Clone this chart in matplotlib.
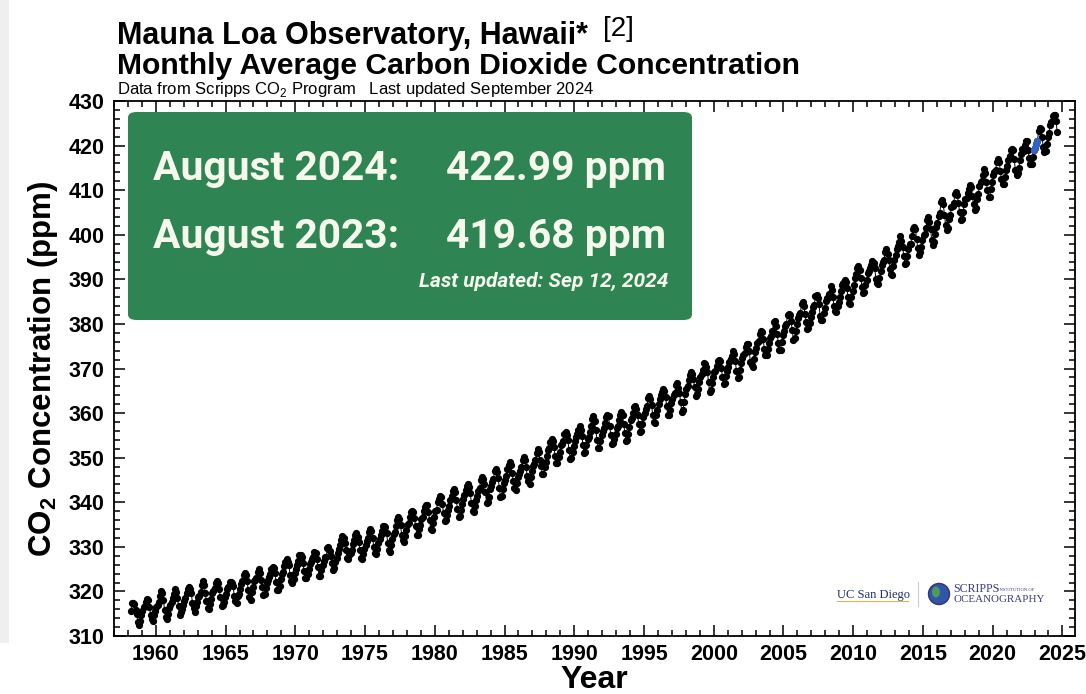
import numpy as np
import matplotlib
matplotlib.use('Agg')
import matplotlib.pyplot as plt
from matplotlib.patches import FancyBboxPatch, Rectangle, Ellipse
from matplotlib.ticker import MultipleLocator

# Mauna Loa monthly mean CO2 (ppm), starting March 1958
start_year = 1958
start_month = 3
co2_ppm = [
    315.70, 317.45, 317.51, 317.24, 315.86, 314.93, 313.20, 312.43, 313.33, 314.67,
    315.58, 316.48, 316.65, 317.72, 318.29, 318.15, 316.54, 314.80, 313.84, 313.33, 314.81, 315.58,
    316.43, 316.98, 317.58, 319.03, 320.04, 319.59, 318.18, 315.90, 314.17, 313.83, 315.00, 316.19,
    316.89, 317.70, 318.54, 319.48, 320.58, 319.77, 318.57, 316.79, 314.80, 315.38, 316.10, 317.01,
    317.94, 318.55, 319.68, 320.57, 321.02, 320.62, 319.61, 317.40, 316.25, 315.42, 316.69, 317.70,
    318.74, 319.07, 319.86, 321.38, 322.25, 321.48, 319.74, 317.77, 316.21, 315.99, 317.07, 318.35,
    319.57, 320.01, 320.74, 321.84, 322.26, 321.89, 320.44, 318.69, 316.70, 316.87, 317.68, 318.71,
    319.44, 320.44, 320.89, 322.14, 322.17, 321.87, 321.21, 318.87, 317.81, 317.30, 318.87, 319.42,
    320.62, 321.60, 322.39, 323.70, 324.08, 323.75, 322.38, 320.36, 318.64, 318.10, 319.78, 321.03,
    322.33, 322.50, 323.04, 324.42, 325.00, 324.09, 322.54, 320.92, 319.25, 319.39, 320.73, 321.96,
    322.57, 323.15, 323.89, 325.02, 325.57, 325.36, 324.14, 322.11, 320.33, 320.25, 321.32, 322.89,
    324.00, 324.42, 325.63, 326.66, 327.38, 326.71, 325.88, 323.66, 322.38, 321.78, 322.85, 324.12,
    325.06, 325.98, 326.93, 328.13, 328.08, 327.67, 326.34, 324.69, 323.10, 323.06, 324.01, 325.13,
    326.17, 326.68, 327.17, 327.79, 328.93, 328.57, 327.36, 325.43, 323.36, 323.56, 324.80, 326.01,
    326.77, 327.63, 327.75, 329.72, 330.07, 329.09, 328.04, 326.32, 324.84, 325.20, 326.50, 327.55,
    328.55, 329.56, 330.30, 331.50, 332.48, 332.07, 330.87, 329.31, 327.51, 327.18, 328.16, 328.64,
    329.35, 330.71, 331.48, 332.65, 333.09, 332.25, 331.18, 329.40, 327.44, 327.37, 328.46, 329.58,
    330.41, 331.41, 332.04, 333.31, 333.96, 333.59, 331.91, 330.06, 328.56, 328.34, 329.49, 330.76,
    331.75, 332.56, 333.50, 334.58, 334.57, 334.34, 333.05, 330.94, 329.30, 328.94, 330.31, 331.68,
    332.93, 333.42, 334.70, 336.07, 336.75, 336.27, 334.92, 332.75, 331.59, 331.16, 332.40, 333.85,
    334.97, 335.39, 336.64, 337.76, 338.01, 337.89, 336.54, 334.68, 332.76, 332.55, 333.92, 334.95,
    336.23, 336.76, 337.96, 338.89, 339.47, 339.29, 337.73, 336.09, 333.92, 333.86, 335.29, 336.73,
    338.01, 338.36, 340.07, 340.77, 341.47, 341.17, 339.56, 337.60, 335.88, 336.02, 337.10, 338.21,
    339.24, 340.48, 341.38, 342.51, 342.91, 342.25, 340.49, 338.43, 336.69, 336.85, 338.36, 339.61,
    340.75, 341.61, 342.70, 343.56, 344.13, 343.35, 342.06, 339.82, 337.97, 337.86, 339.26, 340.49,
    341.38, 342.52, 343.10, 344.94, 345.75, 345.32, 343.99, 342.39, 339.86, 339.99, 341.16, 342.99,
    343.70, 344.50, 345.28, 347.06, 347.43, 346.80, 345.39, 343.28, 341.07, 341.35, 342.98, 344.22,
    344.97, 346.00, 347.43, 348.35, 348.93, 348.25, 346.56, 344.67, 343.09, 342.80, 344.24, 345.56,
    346.30, 346.95, 347.85, 349.55, 350.21, 349.55, 347.94, 345.91, 344.86, 344.17, 345.66, 346.90,
    348.02, 348.47, 349.42, 350.99, 351.84, 351.25, 349.52, 348.10, 346.44, 346.36, 347.81, 348.96,
    350.43, 351.72, 352.22, 353.59, 354.22, 353.79, 352.39, 350.44, 348.72, 348.88, 350.07, 351.34,
    352.76, 353.07, 353.68, 355.42, 355.67, 355.12, 353.90, 351.67, 349.80, 349.99, 351.30, 352.53,
    353.66, 354.70, 355.39, 356.20, 357.16, 356.22, 354.82, 352.91, 350.96, 351.18, 352.83, 354.21,
    354.72, 355.75, 357.16, 358.60, 359.34, 358.24, 356.17, 354.03, 352.16, 352.21, 353.75, 354.99,
    355.99, 356.72, 357.81, 359.15, 359.66, 359.25, 357.02, 355.00, 353.01, 353.31, 354.16, 355.40,
    356.70, 357.17, 358.38, 359.46, 360.28, 359.60, 357.57, 355.52, 353.69, 353.99, 355.34, 356.80,
    358.37, 358.91, 359.97, 361.26, 361.69, 360.94, 359.55, 357.49, 355.84, 356.00, 357.58, 359.04,
    359.97, 361.00, 361.64, 363.45, 363.79, 363.26, 361.90, 359.46, 358.06, 357.75, 359.56, 360.70,
    362.05, 363.25, 364.03, 364.72, 365.41, 364.97, 363.65, 361.49, 359.46, 359.60, 360.76, 362.33,
    363.18, 364.00, 364.57, 366.35, 366.79, 365.62, 364.47, 362.51, 360.19, 360.77, 362.43, 364.28,
    365.32, 366.15, 367.31, 368.61, 369.30, 368.87, 367.64, 365.77, 363.90, 364.23, 365.46, 366.97,
    368.15, 368.87, 369.59, 371.14, 371.00, 370.35, 369.27, 366.94, 364.63, 365.12, 366.67, 368.01,
    369.14, 369.46, 370.52, 371.66, 371.82, 371.70, 370.12, 368.12, 366.62, 366.73, 368.29, 369.53,
    370.28, 371.50, 372.12, 372.87, 374.02, 373.30, 371.62, 369.55, 367.96, 368.09, 369.68, 371.24,
    372.44, 373.08, 373.52, 374.85, 375.55, 375.40, 374.02, 371.48, 370.71, 370.25, 372.08, 373.78,
    374.68, 375.62, 376.11, 377.65, 378.35, 378.13, 376.61, 374.48, 372.98, 373.00, 374.35, 375.69,
    376.79, 377.36, 378.39, 380.50, 380.62, 379.55, 377.76, 375.83, 374.05, 374.22, 375.84, 377.44,
    378.34, 379.61, 380.08, 382.05, 382.24, 382.08, 380.67, 378.67, 376.42, 376.80, 378.31, 379.96,
    381.37, 382.02, 382.56, 384.37, 384.92, 384.03, 382.28, 380.48, 378.81, 379.06, 380.14, 381.66,
    382.58, 383.71, 384.34, 386.23, 386.41, 385.87, 384.45, 381.84, 380.86, 380.86, 382.36, 383.61,
    385.07, 385.72, 385.85, 386.71, 388.45, 387.64, 386.10, 383.95, 382.91, 382.73, 383.96, 385.02,
    386.01, 387.42, 388.71, 389.25, 389.90, 389.50, 388.01, 386.11, 384.74, 384.43, 386.02, 387.42,
    388.71, 390.20, 391.17, 392.46, 393.00, 392.15, 390.20, 388.35, 386.85, 387.24, 388.67, 389.79,
    391.33, 391.86, 392.60, 393.25, 394.19, 393.74, 392.51, 390.13, 389.08, 389.00, 390.28, 391.86,
    393.12, 393.86, 394.40, 396.18, 396.74, 395.71, 394.36, 392.39, 391.11, 391.05, 392.98, 394.34,
    395.55, 396.80, 397.43, 398.41, 399.78, 398.60, 397.32, 395.20, 393.45, 393.70, 395.16, 396.84,
    397.85, 398.01, 399.77, 401.38, 401.78, 401.25, 399.10, 397.03, 395.38, 396.03, 397.28, 398.91,
    399.98, 400.28, 401.54, 403.28, 403.96, 402.80, 401.31, 398.93, 397.63, 398.29, 400.16, 401.85,
    402.56, 404.12, 404.87, 407.45, 407.72, 406.83, 404.41, 402.27, 401.05, 401.59, 403.55, 404.45,
    406.17, 406.46, 407.22, 409.04, 409.69, 408.88, 407.12, 405.13, 403.37, 403.63, 405.12, 406.81,
    407.96, 408.32, 409.41, 410.24, 411.24, 410.79, 408.71, 406.99, 405.51, 406.00, 408.02, 409.07,
    410.83, 411.75, 411.97, 413.32, 414.66, 413.92, 411.77, 409.95, 408.54, 408.53, 410.27, 411.76,
    413.39, 414.11, 414.51, 416.21, 417.07, 416.38, 414.38, 412.55, 411.29, 411.30, 412.96, 414.47,
    415.52, 416.75, 417.64, 419.05, 419.13, 418.94, 416.96, 414.47, 413.30, 413.93, 415.01, 416.71,
    418.19, 419.28, 418.81, 420.23, 420.99, 420.99, 418.90, 417.19, 415.95, 415.78, 417.51, 418.95,
    419.47, 420.31, 420.99, 423.36, 424.00, 423.68, 421.83, 419.68, 418.51, 418.82, 420.46, 421.86,
    422.80, 424.55, 425.38, 426.57, 426.90, 426.91, 425.55, 422.99,
]
# months measured at Maunakea after the 2022 eruption (year, month)
maunakea_months = [(2022, 12), (2023, 1), (2023, 2), (2023, 3)]

latest_label = 'August 2024:'
latest_value = 422.99
prior_label = 'August 2023:'
prior_value = 419.68
box_note = 'Last updated: Sep 12, 2024'

W, H = 1086, 694
def fx(px):
    return px / W
def fy(py):
    return 1 - py / H

# decimal year at mid-month
n = len(co2_ppm)
months = np.arange(n) + (start_month - 1)
t = start_year + months / 12.0 + 1 / 24.0
co2 = np.array(co2_ppm)
blue_idx = [(y - start_year) * 12 + (m - start_month) for y, m in maunakea_months]

plt.rcParams['font.family'] = ['Liberation Sans', 'DejaVu Sans']
plt.rcParams['mathtext.fontset'] = 'custom'
plt.rcParams['mathtext.rm'] = 'Liberation Sans'
plt.rcParams['mathtext.bf'] = 'Liberation Sans:bold'

fig = plt.figure(figsize=(W / 100, H / 100), dpi=100)
fig.patches.append(Rectangle((0, fy(643)), fx(9), 1 - fy(643), transform=fig.transFigure,
                             facecolor='#efefef', edgecolor='none', zorder=0))
ax = fig.add_axes([fx(114), fy(636), fx(1075) - fx(114), fy(101) - fy(636)])

ax.plot(t, co2, '-', color='k', lw=0.7, marker='o', ms=4.2, mfc='k', mec='k', zorder=3)
ax.plot(t[blue_idx], co2[blue_idx], '-', color='#3461c9', lw=0.7, marker='o', ms=4.2,
        mfc='#3461c9', mec='#3461c9', zorder=4)

ax.set_xlim(1957.0, 2025.9)
ax.set_ylim(310, 430)
ax.xaxis.set_major_locator(MultipleLocator(5))
ax.xaxis.set_minor_locator(MultipleLocator(1))
ax.yaxis.set_major_locator(MultipleLocator(10))
ax.yaxis.set_minor_locator(MultipleLocator(2))
ax.tick_params(which='both', direction='in', top=True, right=True, width=1.1)
ax.tick_params(which='major', length=8, labelsize=15.5, pad=6)
ax.tick_params(axis='y', which='major', pad=7)
ax.tick_params(which='minor', length=4.5)
for lbl in ax.get_xticklabels() + ax.get_yticklabels():
    lbl.set_fontweight('bold')
for s in ax.spines.values():
    s.set_linewidth(1.3)

ax.set_xlabel('Year', fontsize=23, fontweight='bold', labelpad=0)
ax.set_ylabel(r'CO$_\mathbf{2}$ Concentration (ppm)', fontsize=22.5, fontweight='bold', labelpad=6)

# titles
fig.text(fx(117), fy(44), 'Mauna Loa Observatory, Hawaii*', fontsize=22, fontweight='bold',
         va='baseline', ha='left')
fig.text(fx(603), fy(36), '[2]', fontsize=20, va='baseline', ha='left')
fig.text(fx(117), fy(74), 'Monthly Average Carbon Dioxide Concentration', fontsize=21.7,
         fontweight='bold', va='baseline', ha='left')
fig.text(fx(117), fy(94), r'Data from Scripps CO$_\mathregular{2}$ Program   Last updated September 2024',
         fontsize=12, va='baseline', ha='left')

# green summary box
green = '#2e8453'
txtc = '#f6f8ee'
box = FancyBboxPatch((fx(128), fy(320)), fx(692) - fx(128), fy(112) - fy(320),
                     boxstyle='round,pad=0,rounding_size=0.008', transform=fig.transFigure,
                     facecolor=green, edgecolor='none', zorder=5)
fig.patches.append(box)
fig.text(fx(153), fy(180), latest_label, fontsize=29.3, fontweight='bold', family='Roboto',
         color=txtc, va='baseline', ha='left', zorder=6)
fig.text(fx(666), fy(180), f'{latest_value:.2f} ppm', fontsize=29.3, fontweight='bold',
         family='Roboto', color=txtc, va='baseline', ha='right', zorder=6)
fig.text(fx(153), fy(248), prior_label, fontsize=29.3, fontweight='bold', family='Roboto',
         color=txtc, va='baseline', ha='left', zorder=6)
fig.text(fx(666), fy(248), f'{prior_value:.2f} ppm', fontsize=29.3, fontweight='bold',
         family='Roboto', color=txtc, va='baseline', ha='right', zorder=6)
fig.text(fx(668), fy(287), box_note, fontsize=15, fontweight='bold', style='italic',
         family='Roboto', color=txtc, va='baseline', ha='right', zorder=6)

# institution marks
navy = '#1d2f6e'
fig.text(fx(837), fy(598), 'UC San Diego', fontsize=9, family='Liberation Serif',
         color=navy, va='baseline', ha='left')
fig.lines.append(plt.Line2D([fx(837), fx(908)], [fy(601), fy(601)], transform=fig.transFigure,
                            color='#d8b45a', lw=0.8))
fig.lines.append(plt.Line2D([fx(918), fx(918)], [fy(582), fy(606)], transform=fig.transFigure,
                            color='#cccccc', lw=0.8))
fig.patches.append(Ellipse((fx(939), fy(594)), 21 / W, 21 / H, transform=fig.transFigure,
                           facecolor='#2f57a6', edgecolor='#3a2f7a', lw=1.0))
fig.patches.append(Ellipse((fx(936), fy(592)), 8 / W, 11 / H, transform=fig.transFigure,
                           facecolor='#4f9a5c', edgecolor='none'))
fig.text(fx(953), fy(592), 'SCRIPPS', fontsize=8.6, family='Liberation Serif', color='#3b3a86',
         va='baseline', ha='left')
fig.text(fx(998), fy(591), 'INSTITUTION OF', fontsize=3.3, family='Liberation Serif',
         color='#3b3a86', va='baseline', ha='left')
fig.text(fx(953), fy(602), 'OCEANOGRAPHY', fontsize=7.9, family='Liberation Serif',
         color='#3b3a86', va='baseline', ha='left')

fig.savefig('out.png', dpi=100)
